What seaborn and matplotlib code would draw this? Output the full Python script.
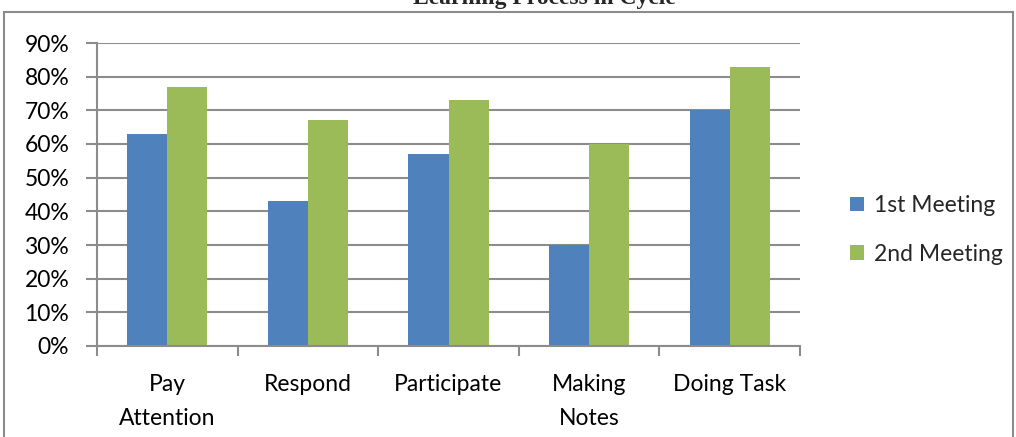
import matplotlib
matplotlib.use("Agg")
import matplotlib.pyplot as plt
from matplotlib.patches import Rectangle, Patch
from matplotlib.ticker import FixedLocator, PercentFormatter
import seaborn as sns
import pandas as pd

# Share of students showing each behaviour, per meeting
activities = ["Pay\nAttention", "Respond", "Participate", "Making\nNotes", "Doing Task"]
meetings = ["1st Meeting", "2nd Meeting"]
first_meeting = [0.63, 0.43, 0.57, 0.30, 0.70]
second_meeting = [0.77, 0.67, 0.73, 0.60, 0.83]
y_ticks = [0.0, 0.1, 0.2, 0.3, 0.4, 0.5, 0.6, 0.7, 0.8, 0.9]
title = "Learning Process in Cycle"

colors = ["#4F81BD", "#9BBB59"]
grid_gray = "#8C8C8C"

sns.set_theme(style="white")
plt.rcParams["font.family"] = ["Lato", "DejaVu Sans"]

df = pd.DataFrame({
    "Activity": activities * 2,
    "Meeting": [meetings[0]] * len(activities) + [meetings[1]] * len(activities),
    "Share": first_meeting + second_meeting,
})

W, H = 1016, 437
fig = plt.figure(figsize=(W / 100, H / 100), dpi=100)
ax = fig.add_axes([97 / W, 1 - 346 / H, (800 - 97) / W, (346 - 43) / H])

sns.barplot(data=df, x="Activity", y="Share", hue="Meeting", order=activities,
            hue_order=meetings, palette=colors, width=0.57, saturation=1,
            linewidth=0, ax=ax, legend=False)

ax.set_xlim(-0.5, len(activities) - 0.5)
ax.set_ylim(0, 0.9)
ax.yaxis.set_major_locator(FixedLocator(y_ticks))
ax.yaxis.set_major_formatter(PercentFormatter(1.0, decimals=0))
ax.set_xlabel("")
ax.set_ylabel("")

ax.grid(axis="y", color=grid_gray, linewidth=1.5)
ax.set_axisbelow(True)
for side in ["top", "right"]:
    ax.spines[side].set_visible(False)
for side in ["left", "bottom"]:
    ax.spines[side].set_color(grid_gray)
    ax.spines[side].set_linewidth(1.5)

# Category boundary ticks below the x axis
ax.set_xticks([i - 0.5 for i in range(len(activities) + 1)], minor=True)
ax.tick_params(axis="x", which="minor", length=7, width=1.5, color=grid_gray, bottom=True)
ax.tick_params(axis="x", which="major", length=0, labelsize=16.5, pad=20, labelcolor="#000000")
ax.tick_params(axis="y", length=8, width=1.5, color=grid_gray, left=True,
               labelsize=16.5, pad=12, labelcolor="#000000")
ax.set_xticks(range(len(activities)))
ax.set_xticklabels(activities, linespacing=1.75)

handles = [Patch(facecolor=c, edgecolor="none") for c in colors]
fig.legend(handles, meetings, loc="center left", bbox_to_anchor=(841 / W, 1 - 230 / H),
           frameon=False, fontsize=16.5, handlelength=0.6, handleheight=0.6,
           handletextpad=0.45, labelspacing=1.2, borderaxespad=0)

# Chart frame
fig.add_artist(Rectangle((4 / W, -0.05), (1013 - 4) / W, 1 - 12 / H + 0.05,
                         transform=fig.transFigure, fill=False,
                         edgecolor=grid_gray, linewidth=1.5))

fig.text(544 / W, 1 - 4 / H, title, ha="center", va="baseline",
         fontsize=17, fontweight="bold", family="Liberation Serif")

fig.savefig("out.png", dpi=100)
